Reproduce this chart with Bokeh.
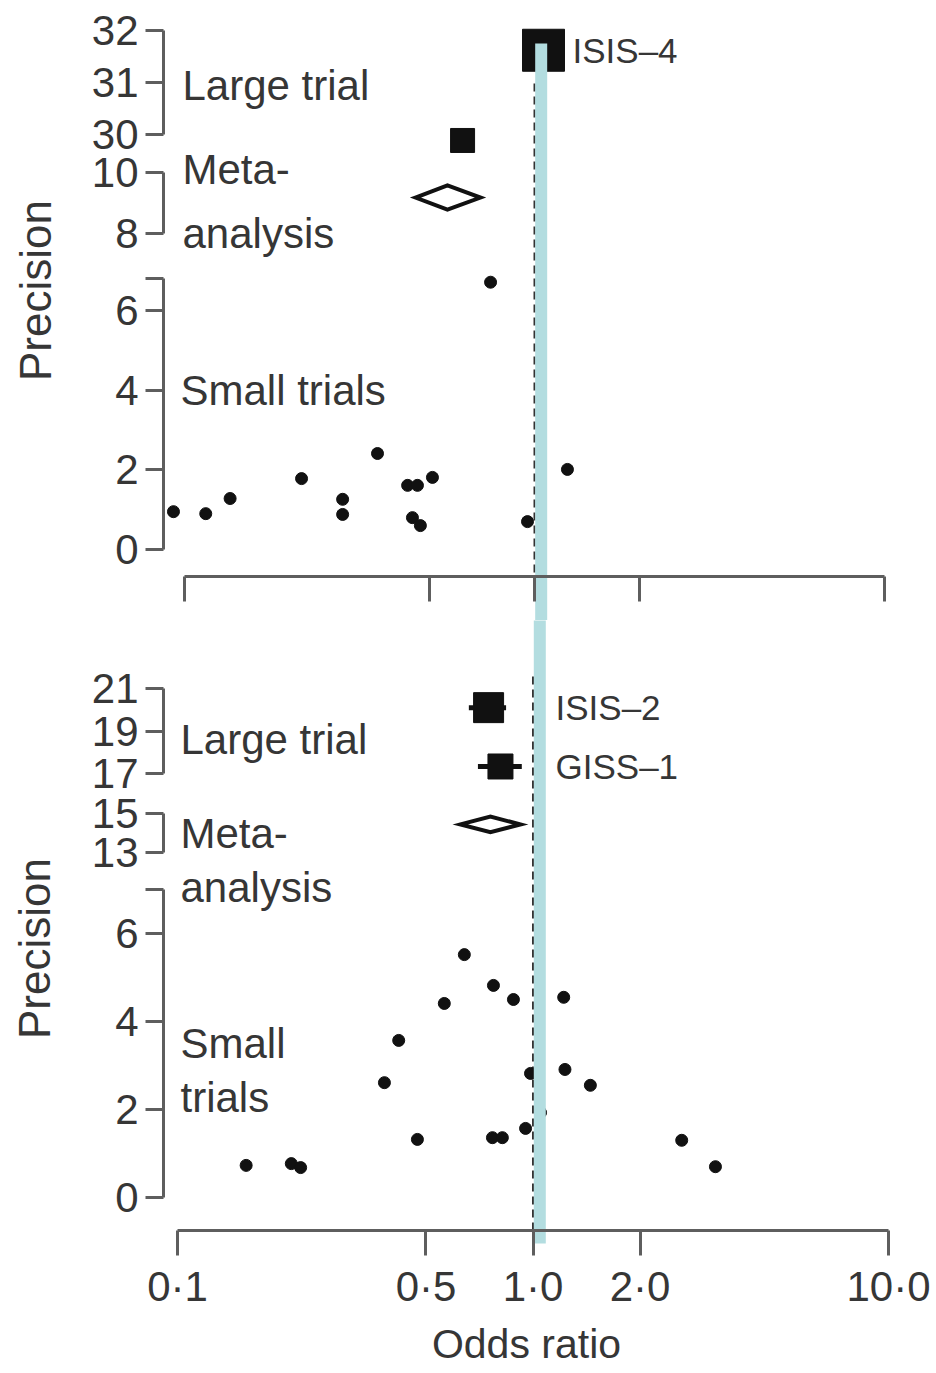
import math
from bokeh.plotting import figure
from bokeh.models import Range1d, LinearAxis, LogAxis, FixedTicker
from bokeh.layouts import column
from bokeh.embed import file_html
from bokeh.resources import INLINE
from bokeh.core.properties import value

# ---------------- data: upper panel ----------------
top_small_or = [0.093, 0.115, 0.135, 0.216, 0.283, 0.283, 0.356, 0.434, 0.463,
                0.511, 0.448, 0.472, 0.955, 1.242, 0.749]
top_small_prec = [0.95, 0.90, 1.28, 1.78, 1.26, 0.88, 2.41, 1.61, 1.61,
                  1.81, 0.80, 0.60, 0.70, 2.01, 6.71]
top_meta_or = [0.564]
top_meta_lo = [0.457]
top_meta_hi = [0.701]
top_meta_prec = [9.18]
top_meta_sq_or = [0.623]
top_meta_sq_prec = [11.05]
top_large_or = [1.061]
top_large_prec = [31.62]
top_large_names = ["ISIS–4"]

# ---------------- data: lower panel ----------------
bot_small_or = [0.156, 0.209, 0.222, 0.382, 0.419, 0.473, 0.563, 0.641, 0.774,
                0.881, 0.769, 0.820, 0.953, 0.984, 1.05, 1.22, 1.23, 1.45, 2.62, 3.26]
bot_small_prec = [0.73, 0.77, 0.68, 2.61, 3.57, 1.32, 4.41, 5.52, 4.82,
                  4.50, 1.36, 1.36, 1.57, 2.82, 1.93, 4.55, 2.91, 2.55, 1.30, 0.70]
bot_meta_or = [0.759]
bot_meta_lo = [0.625]
bot_meta_hi = [0.922]
bot_meta_prec = [14.44]
bot_large_or = [0.750, 0.810]
bot_large_lo = [0.66, 0.70]
bot_large_hi = [0.84, 0.93]
bot_large_prec = [20.1, 17.33]
bot_large_names = ["ISIS–2", "GISS–1"]

# axis ticks / labels
or_ticks = [0.1, 0.5, 1, 2, 10]
or_tick_labels = ["0·1", "0·5", "1·0", "2·0", "10·0"]
null_or = [1.0]
marker_or = [1.045]

top_ticks = {"large": [30, 31, 32], "meta": [8, 10], "small": [0, 2, 4, 6, 6.8]}
bot_ticks = {"large": [17, 19, 21], "meta": [13, 15], "small": [0, 2, 4, 6, 7]}

# ---------------- layout / style ----------------
FONT = "Liberation Sans"
TXT = "#363636"
AX = "#5e5e5e"
W = 930
TOP_PAGE = (0, 620)
BOT_PAGE = (620, 1372)


def make_fig(page, px_one, px_dec):
    def or_at(px):
        return 10 ** ((px - px_one) / px_dec)
    p = figure(width=W, height=page[1] - page[0], x_axis_type="log",
               x_range=Range1d(or_at(0), or_at(W)),
               y_range=Range1d(page[1], page[0]),
               x_axis_location=None, y_axis_location=None,
               toolbar_location=None, output_backend="svg", min_border=0,
               outline_line_color=None, background_fill_color="white",
               border_fill_color="white")
    p.xgrid.grid_line_color = None
    p.ygrid.grid_line_color = None
    return p, or_at


def add_segment(p, or_at, name, vals, pxs, ticks, page, blank=()):
    (v1, v2), (p1, p2) = vals, pxs
    s = (v2 - v1) / (p2 - p1)
    start = v1 + (page[1] - p1) * s
    end = v1 + (page[0] - p1) * s
    p.extra_y_ranges[name] = Range1d(start, end)
    ov = {t: "" for t in blank}
    ax = LinearAxis(y_range_name=name, fixed_location=or_at(163),
                    bounds=(min(ticks), max(ticks)), ticker=FixedTicker(ticks=ticks),
                    major_label_overrides=ov,
                    axis_line_color=AX, axis_line_width=3,
                    major_tick_line_color=AX, major_tick_line_width=3,
                    major_tick_out=18, major_tick_in=0,
                    minor_tick_out=0, minor_tick_in=0,
                    major_label_standoff=7,
                    major_label_text_font=FONT, major_label_text_font_size="42px",
                    major_label_text_color=TXT)
    p.add_layout(ax, "left")


def add_text(p, xs, ys, texts, size, angle=0.0, align="left", yname="default"):
    p.text(x=xs, y=ys, text=texts, angle=angle, text_align=align,
           text_baseline="middle", text_font=value(FONT),
           text_font_size=value(size), text_color=TXT, y_range_name=yname)


def add_xaxis(p, loc, labels):
    ov = {t: (l if labels else "") for t, l in zip(or_ticks, or_tick_labels)}
    ax = LogAxis(fixed_location=loc, bounds=(min(or_ticks), max(or_ticks)),
                 ticker=FixedTicker(ticks=or_ticks), major_label_overrides=ov,
                 axis_line_color=AX, axis_line_width=3,
                 major_tick_line_color=AX, major_tick_line_width=3,
                 major_tick_out=25, major_tick_in=0,
                 minor_tick_out=0, minor_tick_in=0,
                 major_label_standoff=7,
                 major_label_text_font=FONT, major_label_text_font_size="42px",
                 major_label_text_color=TXT)
    p.add_layout(ax, "below")


def diamond(p, est, lo, hi, prec, name, h=0.4):
    p.patch([lo[0], est[0], hi[0], est[0]],
            [prec[0], prec[0] + h, prec[0], prec[0] - h],
            y_range_name=name, fill_color="white", line_color="#111",
            line_width=4, line_join="miter")


# ---------------- upper panel ----------------
pt, or_t = make_fig(TOP_PAGE, 534, 350)
add_segment(pt, or_t, "large", (30, 32), (134, 30), top_ticks["large"], TOP_PAGE)
add_segment(pt, or_t, "meta", (8, 10), (233, 172), top_ticks["meta"], TOP_PAGE)
add_segment(pt, or_t, "small", (0, 6), (549, 310), top_ticks["small"], TOP_PAGE, blank=[6.8])
add_xaxis(pt, 576, False)

pt.segment(x0=null_or, y0=[83], x1=null_or, y1=[576], line_color="#333",
           line_width=2, line_dash="8 5")
pt.scatter(top_small_or, top_small_prec, y_range_name="small", marker="circle",
           size=12, color="#111")
diamond(pt, top_meta_or, top_meta_lo, top_meta_hi, top_meta_prec, "meta")
pt.scatter(top_meta_sq_or, top_meta_sq_prec, y_range_name="meta", marker="square",
           size=24, color="#111")
pt.scatter(top_large_or, top_large_prec, y_range_name="large", marker="square",
           size=42, color="#111")

add_text(pt, [or_t(182)], [30.95], ["Large trial"], "42px", yname="large")
add_text(pt, [or_t(182)], [10.1], ["Meta-"], "42px", yname="meta")
add_text(pt, [or_t(182)], [8.0], ["analysis"], "42px", yname="meta")
add_text(pt, [or_t(180)], [4.0], ["Small trials"], "42px", yname="small")
add_text(pt, [or_t(35)], [290], ["Precision"], "44px", angle=math.pi / 2, align="center")
add_text(pt, [or_t(572)], top_large_prec, top_large_names, "35px", yname="large")
pt.segment(x0=marker_or, y0=[43], x1=marker_or, y1=[700], line_color="#b3dde0",
           line_width=12)

# ---------------- lower panel ----------------
pb, or_b = make_fig(BOT_PAGE, 532.5, 355.5)
add_segment(pb, or_b, "large", (17, 21), (773, 688), bot_ticks["large"], BOT_PAGE)
add_segment(pb, or_b, "meta", (13, 15), (852, 813), bot_ticks["meta"], BOT_PAGE)
add_segment(pb, or_b, "small", (0, 6), (1197, 933), bot_ticks["small"], BOT_PAGE, blank=[7])
add_xaxis(pb, 1230, True)

pb.segment(x0=null_or, y0=[676], x1=null_or, y1=[1230], line_color="#333",
           line_width=2, line_dash="8 5")
pb.scatter(bot_small_or, bot_small_prec, y_range_name="small", marker="circle",
           size=12, color="#111")
diamond(pb, bot_meta_or, bot_meta_lo, bot_meta_hi, bot_meta_prec, "meta")
pb.segment(x0=bot_large_lo, y0=bot_large_prec, x1=bot_large_hi, y1=bot_large_prec,
           y_range_name="large", line_color="#111", line_width=5)
pb.scatter(bot_large_or, bot_large_prec, y_range_name="large", marker="square",
           size=[30, 25], color="#111")

add_text(pb, [or_b(180)], [18.6], ["Large trial"], "42px", yname="large")
add_text(pb, [or_b(180)], [14.0], ["Meta-"], "42px", yname="meta")
add_text(pb, [or_b(180)], [887], ["analysis"], "42px")
add_text(pb, [or_b(180)], [1043], ["Small"], "42px")
add_text(pb, [or_b(180)], [1097], ["trials"], "42px")
add_text(pb, [or_b(34)], [948], ["Precision"], "44px", angle=math.pi / 2, align="center")
add_text(pb, [or_b(526)], [1343], ["Odds ratio"], "41px", align="center")
add_text(pb, [or_b(555)] * len(bot_large_names), bot_large_prec, bot_large_names,
         "35px", yname="large")
pb.segment(x0=marker_or, y0=[500], x1=marker_or, y1=[1243], line_color="#b3dde0",
           line_width=12)

layout = column(pt, pb, spacing=0)
open("out.html", "w").write(file_html(layout, INLINE))
